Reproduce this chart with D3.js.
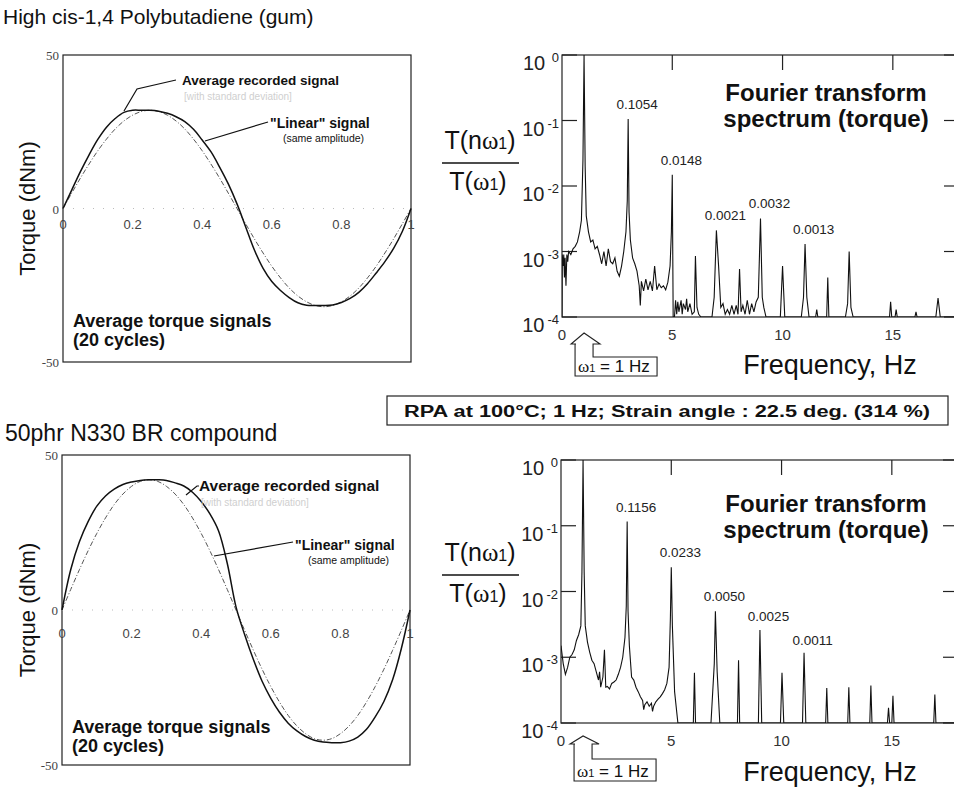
<!DOCTYPE html>
<html>
<head>
<meta charset="utf-8">
<script src="https://cdn.jsdelivr.net/npm/d3@7"></script>
<style>
  body { margin: 0; background: #fff; }
  svg { display: block; }
  text { font-family: "Liberation Sans", Arial, sans-serif; fill: #111; }
</style>
</head>
<body>
<div id="chart"></div>
<script>
// ---- data ----

// fraction of one strain cycle
var cycleT = [0, .025, .05, .075, .1, .125, .15, .175, .2, .225, .25, .275, .3, .325, .35, .375, .4, .425, .45, .475,
              .5, .525, .55, .575, .6, .625, .65, .675, .7, .725, .75, .775, .8, .825, .85, .875, .9, .925, .95, .975, 1];

// torque (dNm), gum
var gumRecorded = [0, 6, 12, 17.5, 22.5, 26.5, 29.3, 31.3, 32, 32, 32, 31.7, 31, 29.9, 28.3, 25.8, 22.3, 18.5, 13.5, 8,
                   1.5, -6, -13.5, -19.5, -23.8, -26.7, -29, -30.7, -31.5, -31.6, -31.6, -31.4, -30.6, -29.3, -27.3, -24.5, -21, -17.3, -13, -7.5, 0];
var gumLinear   = [0, 5, 9.9, 14.5, 18.8, 22.6, 25.9, 28.5, 30.4, 31.6, 32, 31.6, 30.4, 28.5, 25.9, 22.6, 18.8, 14.5, 9.9, 5,
                   0, -5, -9.9, -14.5, -18.8, -22.6, -25.9, -28.5, -30.4, -31.6, -32, -31.6, -30.4, -28.5, -25.9, -22.6, -18.8, -14.5, -9.9, -5, 0];

// torque (dNm), 50phr N330 compound
var cbRecorded = [0, 13, 22, 28.5, 33.5, 36.8, 39, 40.5, 41.3, 41.8, 42, 42, 41.8, 41, 40, 38, 35, 31, 25.5, 15,
                  1, -8, -16, -23, -28.5, -33, -36.5, -39, -40.8, -42, -42.6, -42.8, -42.8, -42.3, -41, -38.5, -34.5, -29.5, -22.5, -12.5, 0];
var cbLinear   = [0, 6.6, 13, 19.1, 24.7, 29.7, 34, 37.4, 39.9, 41.5, 42, 41.5, 39.9, 37.4, 34, 29.7, 24.7, 19.1, 13, 6.6,
                  0, -6.6, -13, -19.1, -24.7, -29.7, -34, -37.4, -39.9, -41.5, -42, -41.5, -39.9, -37.4, -34, -29.7, -24.7, -19.1, -13, -6.6, 0];

var timeTicks = [0, 0.2, 0.4, 0.6, 0.8, 1];
var torqueTicks = [50, 0, -50];

// FT spectra, [frequency Hz, T(n w1)/T(w1)]
var gumSpectrum = [
  [0, 1e-4], [0.01, 9e-4], [0.05, 6e-4], [0.08, 9e-4], [0.11, 4e-4], [0.14, 8e-4], [0.18, 3e-4], [0.22, 9e-4], [0.26, 7e-4],
  [0.3, 1e-3], [0.4, 9e-4], [0.5, 1.1e-3], [0.6, 1.2e-3], [0.7, 1.4e-3], [0.8, 2e-3], [0.88, 3e-3], [0.95, 2.5e-2], [1, 1],
  [1.05, 2e-2], [1.1, 3.5e-3], [1.2, 2e-3], [1.3, 1.4e-3], [1.4, 1.5e-3], [1.5, 1.1e-3], [1.6, 1.2e-3], [1.7, 9e-4],
  [1.8, 6.5e-4], [1.9, 1e-3], [2, 6e-4], [2.1, 1.1e-3], [2.2, 7e-4], [2.3, 6.5e-4], [2.4, 8e-4], [2.5, 5e-4], [2.6, 4.2e-4],
  [2.7, 6e-4], [2.8, 1e-3], [2.9, 2e-3], [2.96, 6e-3], [3, 0.1054], [3.04, 4e-3], [3.1, 1.5e-3], [3.2, 8e-4], [3.3, 6.5e-4],
  [3.4, 5e-4], [3.5, 3e-4], [3.55, 1.5e-4], [3.6, 3.5e-4], [3.7, 2.5e-4], [3.8, 3.8e-4], [3.9, 2.6e-4], [4, 3.5e-4],
  [4.1, 2.5e-4], [4.2, 6e-4], [4.3, 2.6e-4], [4.4, 3.2e-4], [4.5, 2.8e-4], [4.6, 3e-4], [4.7, 2.6e-4], [4.8, 3.4e-4],
  [4.9, 6e-4], [4.96, 2e-3], [5, 0.0148], [5.04, 1e-4], [5.1, 1e-4], [5.15, 1.8e-4], [5.2, 1.1e-4], [5.25, 1.7e-4],
  [5.3, 1.2e-4], [5.4, 1.8e-4], [5.45, 1.1e-4], [5.5, 1.6e-4], [5.6, 1.3e-4], [5.65, 1.9e-4], [5.7, 1.2e-4], [5.8, 1.6e-4],
  [5.9, 1.1e-4], [6, 1.2e-4], [6.05, 8.5e-4], [6.12, 1.4e-4], [6.2, 1.1e-4], [6.3, 1e-4], [6.8, 1e-4], [6.9, 2e-4],
  [7, 2.1e-3], [7.1, 6e-4], [7.2, 1.4e-4], [7.3, 1.6e-4], [7.4, 1.1e-4], [7.5, 1.3e-4], [7.6, 1.1e-4], [7.7, 1.5e-4],
  [7.8, 1.1e-4], [7.9, 1.5e-4], [7.98, 1.1e-4], [8.05, 5.4e-4], [8.12, 1.2e-4], [8.2, 1.5e-4], [8.3, 1.1e-4], [8.4, 1.8e-4],
  [8.5, 1.1e-4], [8.6, 1.6e-4], [8.7, 1.2e-4], [8.8, 1.7e-4], [8.9, 2e-4], [9, 3.2e-3], [9.08, 2e-4], [9.15, 1.4e-4],
  [9.25, 1e-4], [9.9, 1e-4], [10, 6e-4], [10.1, 1e-4], [10.85, 1e-4], [10.95, 2e-4], [11.02, 1.3e-3], [11.1, 2e-4],
  [11.2, 1e-4], [11.5, 1e-4], [11.55, 1.3e-4], [11.6, 1e-4], [12, 1e-4], [12.05, 4e-4], [12.1, 1e-4], [12.85, 1e-4],
  [12.95, 1.6e-4], [13.02, 1e-3], [13.1, 1.4e-4], [13.2, 1e-4], [14.85, 1e-4], [14.9, 1.7e-4], [14.95, 1e-4], [15.1, 1e-4],
  [15.15, 1.3e-4], [15.2, 1e-4], [16, 1e-4], [16.05, 1.2e-4], [16.1, 1e-4], [16.95, 1e-4], [17.05, 1.95e-4], [17.15, 1e-4],
  [18, 1e-4]
];

var cbSpectrum = [
  [0, 1.5e-3], [0.1, 8e-4], [0.2, 5.5e-4], [0.3, 7e-4], [0.4, 1e-3], [0.5, 1.1e-3], [0.6, 1.3e-3], [0.7, 1.8e-3],
  [0.8, 2.2e-3], [0.9, 3e-3], [0.95, 2e-2], [1, 1], [1.05, 2e-2], [1.1, 3e-3], [1.2, 1.7e-3], [1.3, 1.2e-3], [1.4, 9e-4],
  [1.5, 8e-4], [1.6, 6e-4], [1.7, 4.5e-4], [1.75, 6e-4], [1.8, 3.5e-4], [1.9, 5e-4], [1.97, 1.3e-3], [2.03, 3.5e-4],
  [2.1, 3.6e-4], [2.2, 3.3e-4], [2.3, 4e-4], [2.4, 4.2e-4], [2.5, 4.5e-4], [2.6, 5.5e-4], [2.7, 7e-4], [2.8, 1e-3],
  [2.9, 2e-3], [2.96, 6e-3], [3, 0.1156], [3.04, 5e-3], [3.1, 1.5e-3], [3.2, 5e-4], [3.3, 4.5e-4], [3.4, 3.5e-4],
  [3.5, 3e-4], [3.6, 2.5e-4], [3.7, 2.2e-4], [3.75, 1.6e-4], [3.8, 1.9e-4], [3.9, 2.1e-4], [4, 1.8e-4], [4.1, 2e-4],
  [4.15, 1.5e-4], [4.2, 1.8e-4], [4.3, 2.1e-4], [4.4, 2.3e-4], [4.5, 2.5e-4], [4.6, 2.8e-4], [4.7, 3.2e-4], [4.8, 4e-4],
  [4.9, 7e-4], [4.96, 4e-3], [5, 0.0233], [5.05, 3e-3], [5.15, 3e-4], [5.3, 1e-4], [6, 1e-4], [6.05, 5.8e-4], [6.1, 1e-4],
  [6.8, 1e-4], [6.95, 8e-4], [7, 5e-3], [7.08, 6e-4], [7.2, 1e-4], [8, 1e-4], [8.05, 9e-4], [8.1, 1e-4], [8.95, 1e-4],
  [9.02, 2.6e-3], [9.1, 1e-4], [9.95, 1e-4], [10.02, 5.8e-4], [10.1, 1e-4], [10.95, 1e-4], [11.02, 1.17e-3], [11.1, 1e-4],
  [12, 1e-4], [12.05, 3.4e-4], [12.1, 1e-4], [13, 1e-4], [13.05, 3.5e-4], [13.1, 1e-4], [14, 1e-4], [14.05, 3.7e-4],
  [14.1, 1e-4], [14.8, 1e-4], [14.85, 1.7e-4], [14.9, 1e-4], [15, 1e-4], [15.05, 2.6e-4], [15.1, 1e-4], [16.9, 1e-4],
  [16.95, 2.7e-4], [17, 1e-4], [18, 1e-4]
];

// labelled odd harmonics
var gumPeaks = [[3, 0.1054], [5, 0.0148], [7, 0.0021], [9, 0.0032], [11, 0.0013]];
var cbPeaks  = [[3, 0.1156], [5, 0.0233], [7, 0.0050], [9, 0.0025], [11, 0.0011]];

var decades = [1, 1e-1, 1e-2, 1e-3, 1e-4];
var freqTicks = [0, 5, 10, 15];

// ---- drawing ----
var W = 954, H = 788;
var svg = d3.select("#chart").append("svg").attr("width", W).attr("height", H);
var defs = svg.append("defs");

function drawTime(p, rec, lin, o) {
  var x = d3.scaleLinear().domain([0, 1]).range([p.x0, p.x1]);
  var y = d3.scaleLinear().domain([-50, 50]).range([p.y1, p.y0]);
  var g = svg.append("g");

  g.append("text").attr("x", o.titleX).attr("y", o.titleY)
    .style("font-size", o.titleSize + "px").text(o.title);

  g.append("rect").attr("x", p.x0).attr("y", p.y0)
    .attr("width", p.x1 - p.x0).attr("height", p.y1 - p.y0)
    .attr("fill", "none").attr("stroke", "#222").attr("stroke-width", 1.2);

  // faint dotted zero line
  g.append("line").attr("x1", p.x0).attr("x2", p.x1).attr("y1", y(0)).attr("y2", y(0))
    .attr("stroke", "#bbb").attr("stroke-width", 1).attr("stroke-dasharray", "1,9");

  g.selectAll(".ytick").data(torqueTicks).join("text").attr("class", "ytick")
    .attr("x", p.x0 - 4).attr("y", function(d) { return y(d) + 5; })
    .attr("text-anchor", "end")
    .style("font-family", "'Liberation Serif', serif").style("font-size", "13px").style("fill", "#444")
    .text(function(d) { return d; });

  g.selectAll(".xtick").data(timeTicks).join("text").attr("class", "xtick")
    .attr("x", function(d) { return x(d); }).attr("y", y(0) + o.xlabDy)
    .attr("text-anchor", "middle").style("font-size", "13px").style("fill", "#444")
    .text(function(d) { return (d === 0 || d === 1) ? d : d.toFixed(1); });

  g.append("text")
    .attr("transform", "translate(" + o.ylabX + "," + y(0) + ") rotate(-90)")
    .attr("text-anchor", "middle").style("font-size", "22px").text("Torque (dNm)");

  var line = d3.line()
    .x(function(d, i) { return x(cycleT[i]); })
    .y(function(d) { return y(d); })
    .curve(d3.curveCatmullRom);

  g.append("path").datum(lin).attr("d", line).attr("fill", "none")
    .attr("stroke", "#555").attr("stroke-width", 1).attr("stroke-dasharray", "5,2,1,2");
  g.append("path").datum(rec).attr("d", line).attr("fill", "none")
    .attr("stroke", "#111").attr("stroke-width", 1.5);

  // annotations
  g.append("polyline").attr("points", o.recLeader).attr("fill", "none").attr("stroke", "#111").attr("stroke-width", 1.2);
  g.append("text").attr("x", o.recX).attr("y", o.recY)
    .style("font-size", o.recSize + "px").style("font-weight", "bold").text("Average recorded signal");
  g.append("text").attr("x", o.recX + 2).attr("y", o.recY + 15)
    .style("font-size", "10px").style("fill", "#cfcfcf").text("[with standard deviation]");

  g.append("polyline").attr("points", o.linLeader).attr("fill", "none").attr("stroke", "#111").attr("stroke-width", 1.2);
  g.append("text").attr("x", o.linX).attr("y", o.linY)
    .style("font-size", "14px").style("font-weight", "bold").text('"Linear" signal');
  g.append("text").attr("x", o.linX + 13).attr("y", o.linY + 14)
    .style("font-size", "10.5px").text("(same amplitude)");

  g.append("text").attr("x", p.x0 + 10).attr("y", o.avgY)
    .style("font-size", "18px").style("font-weight", "bold").text("Average torque signals");
  g.append("text").attr("x", p.x0 + 10).attr("y", o.avgY + 19)
    .style("font-size", "18px").style("font-weight", "bold").text("(20 cycles)");
}

function omegaText(sel, prefix, suffix, size) {
  sel.append("tspan").text(prefix);
  sel.append("tspan").style("font-family", "'Liberation Serif', serif").text("\u03c9");
  sel.append("tspan").style("font-size", Math.round(size * 0.62) + "px").text("1");
  sel.append("tspan").text(suffix);
}

function drawSpectrum(p, data, peaks, o) {
  var x = d3.scaleLinear().domain([0, 18]).range([p.x0, p.x1]);
  var y = d3.scaleLog().domain([1e-4, 1]).range([p.y1, p.y0]);
  var g = svg.append("g");

  defs.append("clipPath").attr("id", o.id).append("rect")
    .attr("x", p.x0).attr("y", p.y0).attr("width", p.x1 - p.x0).attr("height", p.y1 - p.y0);

  g.append("rect").attr("x", p.x0).attr("y", p.y0)
    .attr("width", p.x1 - p.x0).attr("height", p.y1 - p.y0)
    .attr("fill", "none").attr("stroke", "#222").attr("stroke-width", 1.2);

  // inward ticks: left, right, top
  g.selectAll(".lt").data(decades).join("line").attr("class", "lt")
    .attr("x1", p.x0).attr("x2", p.x0 + 15)
    .attr("y1", function(d) { return y(d); }).attr("y2", function(d) { return y(d); })
    .attr("stroke", "#222").attr("stroke-width", 1.2);
  g.selectAll(".rt").data(decades).join("line").attr("class", "rt")
    .attr("x1", p.x1 - 15).attr("x2", p.x1)
    .attr("y1", function(d) { return y(d); }).attr("y2", function(d) { return y(d); })
    .attr("stroke", "#222").attr("stroke-width", 1.2);
  g.selectAll(".tt").data(freqTicks.slice(1)).join("line").attr("class", "tt")
    .attr("x1", function(d) { return x(d); }).attr("x2", function(d) { return x(d); })
    .attr("y1", p.y0).attr("y2", p.y0 + 15)
    .attr("stroke", "#222").attr("stroke-width", 1.2);

  var yl = g.selectAll(".yl").data(decades).join("text").attr("class", "yl")
    .attr("x", p.x0 - 3).attr("y", function(d) { return y(d) + 15; })
    .attr("text-anchor", "end").style("font-size", "20px").style("fill", "#222");
  yl.append("tspan").text("10");
  yl.append("tspan").attr("dx", 3).attr("dy", -8).style("font-size", "13px")
    .text(function(d) { var e = Math.round(Math.log10(d)); return e === 0 ? " 0" : String(e); });

  g.selectAll(".xl").data(freqTicks).join("text").attr("class", "xl")
    .attr("x", function(d) { return x(d); }).attr("y", p.y1 + 23)
    .attr("text-anchor", "middle").style("font-size", "15px").style("fill", "#333")
    .text(function(d) { return d; });

  g.append("text").attr("x", 830).attr("y", o.freqY)
    .attr("text-anchor", "middle").style("font-size", "27px").text("Frequency, Hz");

  var line = d3.line()
    .x(function(d) { return x(d[0]); })
    .y(function(d) { return y(Math.max(d[1], 1e-4)); });
  g.append("path").datum(data).attr("d", line).attr("clip-path", "url(#" + o.id + ")")
    .attr("fill", "none").attr("stroke", "#111").attr("stroke-width", 1.1);

  g.selectAll(".pk").data(peaks).join("text").attr("class", "pk")
    .attr("x", function(d) { return x(d[0]) + 9; }).attr("y", function(d) { return y(d[1]) - 10; })
    .attr("text-anchor", "middle").style("font-size", "13.5px").style("fill", "#222")
    .text(function(d) { return d[1].toFixed(4); });

  g.append("text").attr("x", 826).attr("y", p.y0 + o.ftDy)
    .attr("text-anchor", "middle").style("font-size", "24px").style("font-weight", "bold").text("Fourier transform");
  g.append("text").attr("x", 826).attr("y", p.y0 + o.ftDy + 26)
    .attr("text-anchor", "middle").style("font-size", "24px").style("font-weight", "bold").text("spectrum (torque)");

  // y axis quantity as a fraction
  var fy = p.y0 + o.fracDy;
  var num = g.append("text").attr("x", 480).attr("y", fy - 14).attr("text-anchor", "middle").style("font-size", "25px");
  omegaText(num, "T(n", ")", 25);
  g.append("line").attr("x1", 442).attr("x2", 519).attr("y1", fy).attr("y2", fy)
    .attr("stroke", "#111").attr("stroke-width", 1.6);
  var den = g.append("text").attr("x", 478).attr("y", fy + 27).attr("text-anchor", "middle").style("font-size", "25px");
  omegaText(den, "T(", ")", 25);

  // w1 = 1 Hz arrow box
  var ax = x(1), b = o.arrow;
  var pts = [[ax - 8, b[1]], [ax - 13, b[1]], [ax, b[0]], [ax + 16, b[1]], [ax + 9, b[1]], [ax + 9, b[2]],
             [ax + 73, b[2]], [ax + 73, b[3]], [ax - 9, b[3]], [ax - 9, b[1]]];
  g.append("path").attr("d", "M" + pts.join("L") + "Z")
    .attr("fill", "none").attr("stroke", "#222").attr("stroke-width", 1.1);
  var lab = g.append("text").attr("x", ax - 6).attr("y", b[3] - 4).style("font-size", "17px");
  omegaText(lab, "", " = 1 Hz", 17);
}

var gumTimeBox = { x0: 63, x1: 411, y0: 55, y1: 362 };
var cbTimeBox  = { x0: 62, x1: 410, y0: 455, y1: 765 };
var gumSpecBox = { x0: 562, x1: 959, y0: 55, y1: 317 };
var cbSpecBox  = { x0: 561, x1: 958, y0: 460, y1: 723 };

drawTime(gumTimeBox, gumRecorded, gumLinear, {
  title: "High cis-1,4 Polybutadiene (gum)", titleX: 3, titleY: 24, titleSize: 21,
  xlabDy: 20, ylabX: 35,
  recLeader: "124,111 137,89 176,80", recX: 182, recY: 85, recSize: 13.5,
  linLeader: "205,141 268,122", linX: 270, linY: 128,
  avgY: 327
});
drawTime(cbTimeBox, cbRecorded, cbLinear, {
  title: "50phr N330 BR compound", titleX: 5, titleY: 441, titleSize: 23,
  xlabDy: 28, ylabX: 35,
  recLeader: "186,495 197,486 199,486", recX: 199, recY: 491, recSize: 15.5,
  linLeader: "214,556 293,542", linX: 295, linY: 550,
  avgY: 733
});

drawSpectrum(gumSpecBox, gumSpectrum, gumPeaks, { id: "clipGum", freqY: 374, ftDy: 46, fracDy: 108, arrow: [333, 344, 357, 376] });
drawSpectrum(cbSpecBox, cbSpectrum, cbPeaks, { id: "clipCb", freqY: 781, ftDy: 52, fracDy: 115, arrow: [736, 744, 759, 781] });

// experimental conditions box
svg.append("rect").attr("x", 387).attr("y", 396).attr("width", 561).attr("height", 29)
  .attr("fill", "none").attr("stroke", "#222").attr("stroke-width", 1.2);
svg.append("text").attr("x", 667).attr("y", 417).attr("text-anchor", "middle")
  .attr("textLength", 526).attr("lengthAdjust", "spacingAndGlyphs")
  .style("font-size", "16px").style("font-weight", "bold")
  .text("RPA at 100\u00b0C; 1 Hz; Strain angle : 22.5 deg. (314 %)");
</script>
</body>
</html>
